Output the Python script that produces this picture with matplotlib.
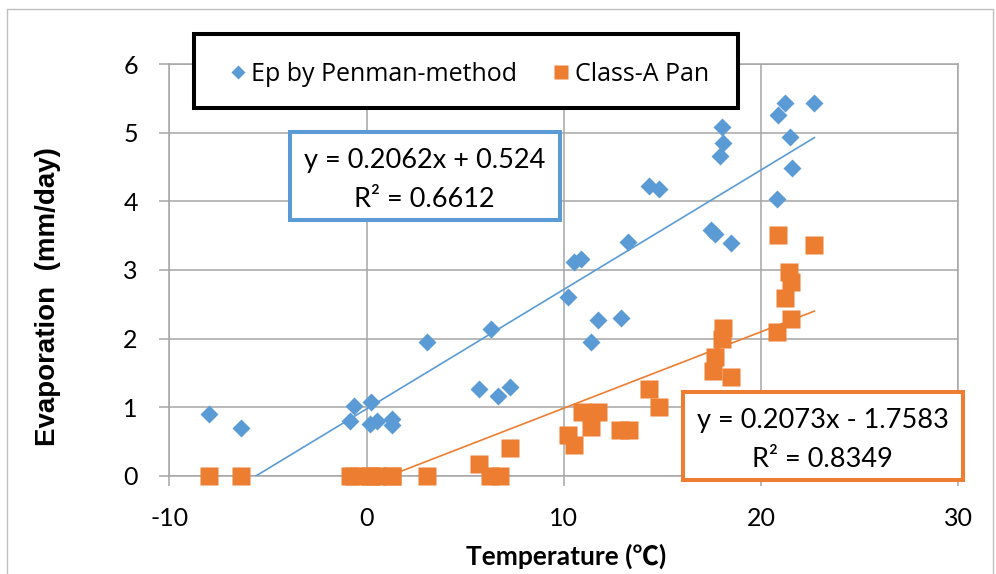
import numpy as np
import matplotlib
matplotlib.use('Agg')
import matplotlib.pyplot as plt
from matplotlib.patches import Rectangle
from matplotlib.lines import Line2D

W, H = 996, 574

# ---------------- data ----------------
temp_ep = [-7.99, -6.36, -0.84, -0.63, 0.18, 0.23, 0.53, 1.29, 1.29, 3.07,
           5.70, 6.31, 6.67, 7.28, 10.21, 10.51, 10.88, 11.39, 11.74, 12.91,
           13.26, 14.33, 14.84, 17.47, 17.67, 18.04, 18.09, 17.93, 18.48, 20.80,
           20.85, 21.22, 21.48, 21.56, 22.71]
ep_penman = [0.90, 0.70, 0.80, 1.02, 0.75, 1.07, 0.80, 0.83, 0.74, 1.95,
             1.26, 2.14, 1.16, 1.29, 2.60, 3.12, 3.16, 1.95, 2.27, 2.30,
             3.40, 4.22, 4.18, 3.58, 3.52, 5.09, 4.85, 4.66, 3.39, 4.03,
             5.26, 5.43, 4.94, 4.49, 5.43]

temp_pan = [-7.99, -6.36, -0.84, -0.63, 0.18, 0.23, 0.53, 1.29, 1.29, 3.07,
            5.70, 6.26, 6.77, 7.28, 10.23, 10.54, 10.91, 11.38, 11.75, 12.85,
            13.33, 14.34, 14.83, 17.56, 17.67, 18.01, 18.09, 18.47, 20.80, 20.85,
            21.22, 21.44, 21.52, 21.52, 22.71]
pan_evap = [0, 0, 0, 0, 0, 0, 0, 0, 0, 0,
            0.17, 0, 0, 0.41, 0.59, 0.45, 0.93, 0.71, 0.93, 0.67,
            0.67, 1.27, 1.00, 1.52, 1.73, 2.00, 2.15, 1.44, 2.10, 3.51,
            2.59, 2.97, 2.83, 2.29, 3.36]

x_ticks = [-10, 0, 10, 20, 30]
y_ticks = [0, 1, 2, 3, 4, 5, 6]
legend_labels = ["Ep by Penman-method", "Class-A Pan"]
eq_ep = ["y = 0.2062x + 0.524", "R\u00b2 = 0.6612"]
eq_pan = ["y = 0.2073x - 1.7583", "R\u00b2 = 0.8349"]
x_label = "Temperature (\u2103)"
y_label = "Evaporation  (mm/day)"

BLUE = '#5B9BD5'
ORANGE = '#ED7D31'
GRID = '#A6A6A6'

plt.rcParams['font.family'] = ['Lato', 'Noto Sans CJK JP', 'DejaVu Sans']
plt.rcParams['axes.unicode_minus'] = False

fig = plt.figure(figsize=(W / 100, H / 100), dpi=100)


def fx(px):
    return px / W


def fy(py):
    return 1 - py / H


# outer chart border
fig.add_artist(Rectangle((fx(7), fy(590)), (993 - 7) / W, (590 - 9) / H,
                         transform=fig.transFigure, facecolor='none',
                         edgecolor='#BFBFBF', lw=1.0, zorder=0))

ax = fig.add_axes([fx(169.3), fy(475.7), (958.1 - 169.3) / W, (475.7 - 64.1) / H])
ax.set_xlim(-10, 30)
ax.set_ylim(0, 6)
ax.set_xticks(x_ticks)
ax.set_yticks(y_ticks)
ax.grid(True, color=GRID, lw=1.1)
ax.set_axisbelow(True)
for s in ax.spines.values():
    s.set_color(GRID)
    s.set_linewidth(1.1)
ax.tick_params(direction='out', length=7.2, width=1.1, color=GRID,
               labelsize=18, pad=15.5, labelcolor='black')

# scatter series
ax.plot(temp_ep, ep_penman, ls='none', marker='D', ms=9.2, color=BLUE,
        mec='none', zorder=3, clip_on=False)
ax.plot(temp_pan, pan_evap, ls='none', marker='s', ms=13.6, color=ORANGE,
        mec='none', zorder=3, clip_on=False)

# linear trend lines (fit from data, drawn between min and max temperature)
for t, v, c in [(temp_ep, ep_penman, BLUE), (temp_pan, pan_evap, ORANGE)]:
    t = np.asarray(t, float)
    v = np.asarray(v, float)
    k, b = np.polyfit(t, v, 1)
    xs = np.linspace(t.min(), t.max(), 200)
    ax.plot(xs, k * xs + b, color=c, lw=1.2, zorder=4)

# axis titles
fig.text(fx(566), fy(565), x_label, ha='center', va='baseline',
         fontsize=19, fontweight='bold', family=['Lato', 'Noto Sans CJK JP', 'DejaVu Sans'])
fig.text(fx(48), fy(296.5), y_label, ha='center', va='center', rotation=90,
         fontsize=20, fontweight='bold', family=['Liberation Sans', 'DejaVu Sans'])

# legend box
fig.add_artist(Rectangle((fx(194), fy(108)), (738 - 194) / W, (108 - 34) / H,
                         transform=fig.transFigure, facecolor='white',
                         edgecolor='black', lw=2.9, zorder=5))
fig.add_artist(Line2D([fx(237.5)], [fy(72)], marker='D', ms=7.0, color=BLUE,
                      mec='none', ls='none', transform=fig.transFigure, zorder=6))
fig.add_artist(Line2D([fx(561)], [fy(72)], marker='s', ms=9.5, color=ORANGE,
                      mec='none', ls='none', transform=fig.transFigure, zorder=6))
fig.text(fx(251), fy(81), legend_labels[0], ha='left', va='baseline', fontsize=18,
         family=['Open Sans', 'DejaVu Sans'], zorder=6)
fig.text(fx(575), fy(81), legend_labels[1], ha='left', va='baseline', fontsize=18,
         family=['Open Sans', 'DejaVu Sans'], zorder=6)

# trendline equation boxes
fig.add_artist(Rectangle((fx(290), fy(220)), (560 - 290) / W, (220 - 132) / H,
                         transform=fig.transFigure, facecolor='white',
                         edgecolor=BLUE, lw=2.9, zorder=5))
fig.text(fx(424.5), fy(168), eq_ep[0], ha='center', va='baseline', fontsize=19.5, zorder=6)
fig.text(fx(424.5), fy(206.7), eq_ep[1], ha='center', va='baseline', fontsize=19.5, zorder=6)

fig.add_artist(Rectangle((fx(683), fy(480)), (963 - 683) / W, (480 - 392) / H,
                         transform=fig.transFigure, facecolor='white',
                         edgecolor=ORANGE, lw=2.9, zorder=5))
fig.text(fx(822.5), fy(428), eq_pan[0], ha='center', va='baseline', fontsize=19.5, zorder=6)
fig.text(fx(822.5), fy(467), eq_pan[1], ha='center', va='baseline', fontsize=19.5, zorder=6)

fig.savefig('out.png', dpi=100, facecolor='white')
